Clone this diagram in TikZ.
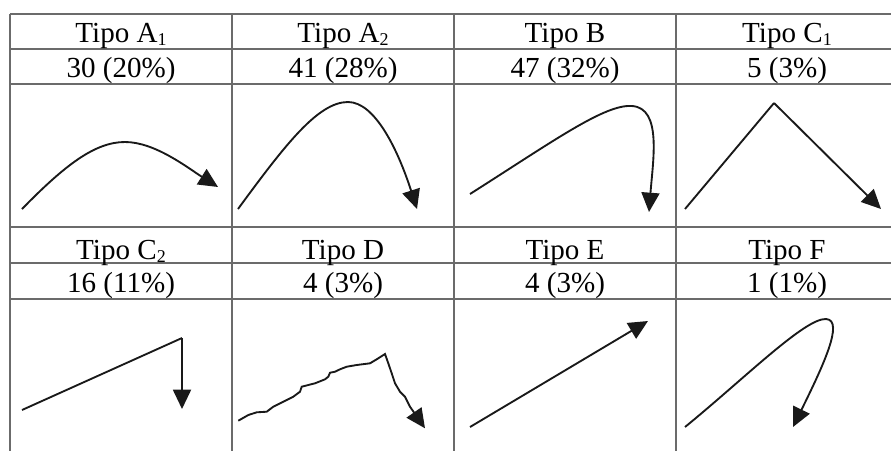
\documentclass[tikz,border=0pt]{standalone}
\usepackage{fontspec}
\setmainfont{Liberation Serif}
\usetikzlibrary{arrows.meta}
\newcommand\sbs[1]{\raisebox{-0.1em}{\fontsize{13.5}{13.5}\selectfont #1}}
\begin{document}
\begin{tikzpicture}[x=0.75pt,y=-0.75pt,
  grid/.style={draw=black!58,line width=1.1pt},
  lbl/.style={anchor=base,inner sep=0pt,font=\fontsize{21.8}{24}\selectfont},
  crv/.style={line width=1.4pt,black!90,-{Triangle[length=14.5pt,width=13.5pt]}},
  pln/.style={line width=1.4pt,black!90}]
\useasboundingbox (0,0) rectangle (891,451);
% grid
\draw[grid] (10,14) -- (891,14);
\draw[grid] (10,49) -- (891,49);
\draw[grid] (10,84) -- (891,84);
\draw[grid] (10,227) -- (891,227);
\draw[grid] (10,263) -- (891,263);
\draw[grid] (10,299) -- (891,299);
\foreach \x in {10,232,454,676} \draw[grid] (\x,14) -- (\x,451);
% labels row 1
\node[lbl] (h1) at (121,42.7) {Tipo A\sbs{1}};
\node[lbl] (h2) at (343,42.7) {Tipo A\sbs{2}};
\node[lbl] (h3) at (565,42.7) {Tipo B};
\node[lbl] (h4) at (787,42.7) {Tipo C\sbs{1}};
\node[lbl] (c1) at (121,77.3) {30 (20\%)};
\node[lbl] (c2) at (343,77.3) {41 (28\%)};
\node[lbl] (c3) at (565,77.3) {47 (32\%)};
\node[lbl] (c4) at (787,77.3) {5 (3\%)};
% labels row 2
\node[lbl] (h5) at (121,259.3) {Tipo C\sbs{2}};
\node[lbl] (h6) at (343,259.3) {Tipo D};
\node[lbl] (h7) at (565,259.3) {Tipo E};
\node[lbl] (h8) at (787,259.3) {Tipo F};
\node[lbl] (c5) at (121,292.7) {16 (11\%)};
\node[lbl] (c6) at (343,292.7) {4 (3\%)};
\node[lbl] (c7) at (565,292.7) {4 (3\%)};
\node[lbl] (c8) at (787,292.7) {1 (1\%)};
% curves row 1
\draw[crv] (22,209) .. controls (65,165) and (95,142) .. (125,142) .. controls (155,142) and (188,168) .. (218,187);
\draw[crv] (238,209) .. controls (285,145) and (318,102) .. (348,102) .. controls (375,102) and (398,150) .. (417,209);
\draw[crv] (470,194) .. controls (555,140) and (605,104) .. (632,106) .. controls (662,108) and (653,160) .. (649,212);
\draw[pln] (685,209) -- (774,103);
\draw[crv] (774,103) -- (881,209);
% curves row 2
\draw[pln] (22,410) -- (182,338);
\draw[crv] (182,338) -- (182,409);
\draw[crv] (238.3,420.7) -- (248.3,415) -- (256.7,412.3) -- (266.7,411.7) -- (273.3,406.7) -- (283.3,401.7) -- (293.3,396.7) -- (300,391.7) -- (301.7,386.7) -- (308.3,385) -- (315,383.3) -- (325,379.3) -- (328.3,376.7) -- (330,372.7) -- (335,371.7) -- (340,369.3) -- (346.7,366.7) -- (356.7,365) -- (370,363.3) -- (376.7,359.3) -- (385,354) -- (388.3,363.3) -- (391.7,373.3) -- (395,383.3) -- (400,391.7) -- (405,396.7) -- (410,406.7) -- (425,428.3);
\draw[crv] (470,427) -- (648,321);
\draw[crv] (685,427) .. controls (745,378) and (805,318) .. (826,319) .. controls (845,320) and (822,368) .. (793,427);
\end{tikzpicture}
\end{document}
